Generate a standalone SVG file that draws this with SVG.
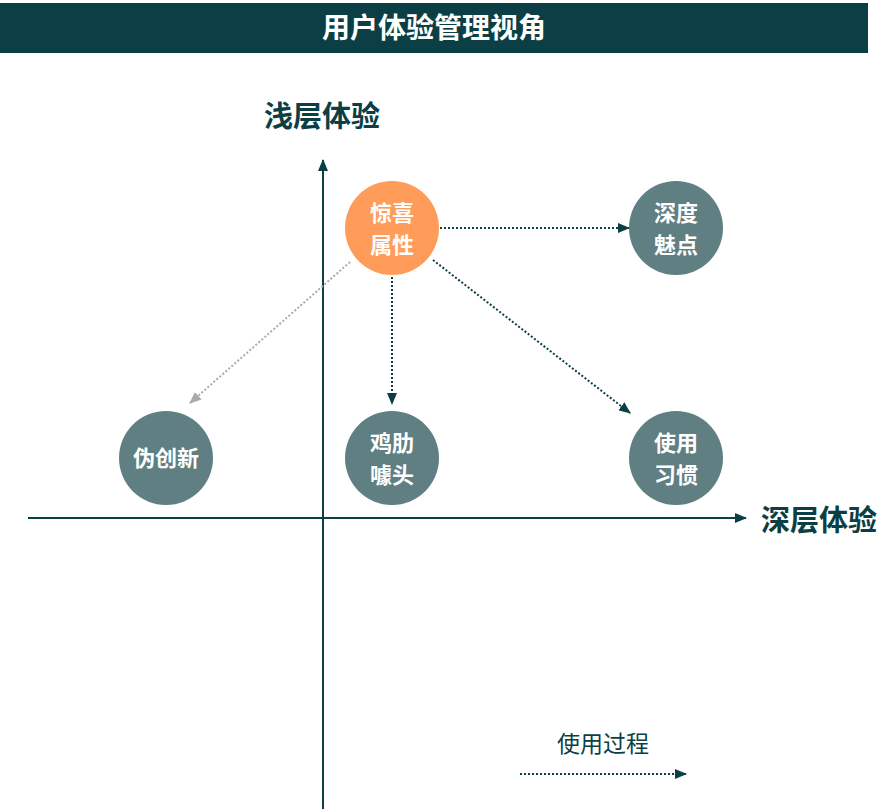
<svg xmlns="http://www.w3.org/2000/svg" width="895" height="809" viewBox="0 0 895 809">
<style>
.ax{stroke:#0B3F45;stroke-width:2;fill:none}
.dot{stroke:#0B3F45;stroke-width:2;stroke-dasharray:2 2;fill:none}
.gdot{stroke:#ABA9A9;stroke-width:2;stroke-dasharray:2 2;fill:none}
.node{fill:#5F7F82}
.ct{font-family:"Noto Sans CJK SC","Noto Sans CJK JP",sans-serif;font-weight:700;font-size:22px;fill:#fff;text-anchor:middle}
.lab{font-family:"Noto Sans CJK SC",sans-serif;font-weight:700;font-size:29px;fill:#0B3F45}
</style>
<defs>
<marker id="ah" viewBox="0 0 12 10" refX="11" refY="5" markerWidth="12" markerHeight="10" markerUnits="userSpaceOnUse" orient="auto"><path d="M0,0 L12,5 L0,10 Z" fill="#0B3F45"/></marker>
<marker id="ahg" viewBox="0 0 12 10" refX="11" refY="5" markerWidth="12" markerHeight="10" markerUnits="userSpaceOnUse" orient="auto"><path d="M0,0 L12,5 L0,10 Z" fill="#ABA9A9"/></marker>
</defs>
<rect width="895" height="809" fill="#fff"/>
<g id="header">
<rect x="0" y="3" width="868" height="50" fill="#0B3F45"/>
<text x="434" y="38" font-family="Noto Sans CJK SC,sans-serif" font-weight="700" font-size="28" fill="#fff" text-anchor="middle">用户体验管理视角</text>
</g>
<g id="axes">
<line class="ax" x1="323" y1="809" x2="323" y2="160" marker-end="url(#ah)"/>
<line class="ax" x1="28" y1="518" x2="746" y2="518" marker-end="url(#ah)"/>
<text class="lab" x="264" y="127">浅层体验</text>
<text class="lab" x="761" y="531">深层体验</text>
</g>
<g id="connectors">
<line class="dot" x1="440" y1="228" x2="629" y2="228" marker-end="url(#ah)"/>
<line class="dot" x1="392" y1="277" x2="392" y2="404" marker-end="url(#ah)"/>
<line class="dot" x1="433" y1="260" x2="630" y2="413" marker-end="url(#ah)"/>
<line class="gdot" x1="350" y1="262" x2="190" y2="403" marker-end="url(#ahg)"/>
</g>
<g id="n-surprise">
<circle cx="392" cy="228" r="47" fill="#FF9C5A"/>
<text class="ct" x="392" y="221">惊喜</text>
<text class="ct" x="392" y="253">属性</text>
</g>
<g id="n-charm">
<circle class="node" cx="676" cy="228" r="47"/>
<text class="ct" x="676" y="221">深度</text>
<text class="ct" x="676" y="253">魅点</text>
</g>
<g id="n-fake">
<circle class="node" cx="166" cy="458" r="47"/>
<text class="ct" x="166" y="466">伪创新</text>
</g>
<g id="n-gimmick">
<circle class="node" cx="392" cy="458" r="47"/>
<text class="ct" x="392" y="451">鸡肋</text>
<text class="ct" x="392" y="483">噱头</text>
</g>
<g id="n-habit">
<circle class="node" cx="676" cy="458" r="47"/>
<text class="ct" x="676" y="451">使用</text>
<text class="ct" x="676" y="483">习惯</text>
</g>
<g id="legend">
<text x="603" y="752" font-family="Noto Sans CJK SC,sans-serif" font-size="23" fill="#0B3F45" text-anchor="middle">使用过程</text>
<line class="dot" x1="520" y1="774" x2="686" y2="774" marker-end="url(#ah)"/>
</g>
</svg>
